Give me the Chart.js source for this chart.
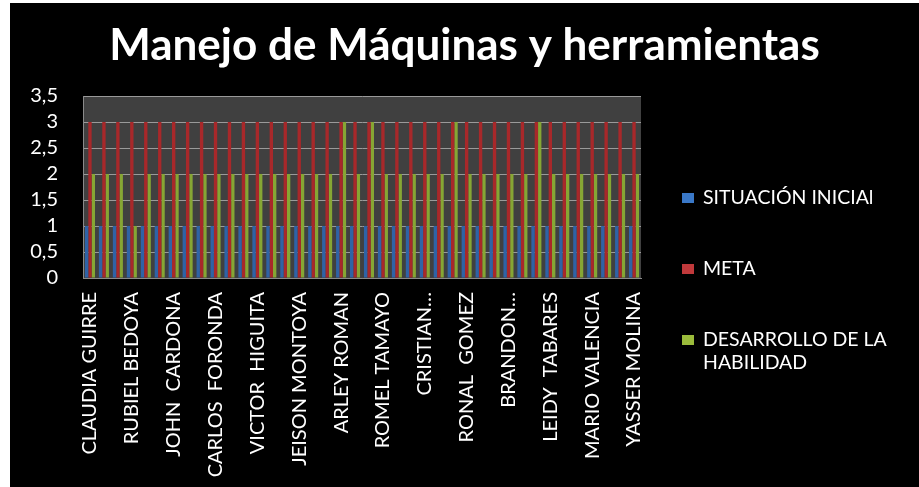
<!DOCTYPE html>
<html>
<head>
<meta charset="utf-8">
<script src="https://cdn.jsdelivr.net/npm/chart.js@4.4.1/dist/chart.umd.min.js"></script>
<style>
  html, body { margin: 0; padding: 0; background: #ffffff; }
  #wrap { position: absolute; left: 10px; top: 3px; width: 909px; height: 484px; background: #000000; }
</style>
</head>
<body>
<div id="wrap"><canvas id="c"></canvas></div>
<script>
// ---- data ----
const categories = [
  "CLAUDIA GUIRRE", "", "",
  "RUBIEL BEDOYA", "", "",
  "JOHN  CARDONA", "", "",
  "CARLOS  FORONDA", "", "",
  "VICTOR  HIGUITA", "", "",
  "JEISON MONTOYA", "", "",
  "ARLEY ROMAN", "", "",
  "ROMEL TAMAYO", "", "",
  "CRISTIAN…", "", "",
  "RONAL  GOMEZ", "", "",
  "BRANDON…", "", "",
  "LEIDY  TABARES", "", "",
  "MARIO VALENCIA", "", "",
  "YASSER MOLINA"
];
const situacionInicial = [1,1,1,1,1,1,1,1,1,1, 1,1,1,1,1,1,1,1,1,1, 1,1,1,1,1,1,1,1,1,1, 1,1,1,1,1,1,1,1,1,1];
const meta            = [3,3,3,3,3,3,3,3,3,3, 3,3,3,3,3,3,3,3,3,3, 3,3,3,3,3,3,3,3,3,3, 3,3,3,3,3,3,3,3,3,3];
const desarrollo      = [2,2,2,1,2,2,2,2,2,2, 2,2,2,2,2,2,2,2,3,2, 3,2,2,2,2,2,3,2,2,2, 2,2,3,2,2,2,2,2,2,2];
const seriesNames = ["SITUACIÓN INICIAl", "META", "DESARROLLO DE LA HABILIDAD"];
const yTicks = [0, 0.5, 1, 1.5, 2, 2.5, 3, 3.5];

const FONT = "Lato, 'Open Sans', sans-serif";

const plotBg = {
  id: 'plotBg',
  beforeDraw(chart) {
    const a = chart.chartArea, ctx = chart.ctx;
    ctx.save();
    ctx.fillStyle = '#404040';
    ctx.fillRect(a.left, a.top, a.right - a.left, a.bottom - a.top);
    ctx.restore();
  }
};

// reserves room on the right of the plot (not under the full-width title)
const rightSpace = {
  id: 'rightSpace',
  beforeInit(chart) {
    const box = {
      position: 'right', weight: 100, fullSize: false,
      options: { stackWeight: 1 },
      width: 0, height: 0, left: 0, top: 0, right: 0, bottom: 0,
      isHorizontal() { return false; },
      update(maxW, maxH) { this.width = 278; this.height = maxH; },
      draw() {}
    };
    Chart.layouts.addBox(chart, box);
  }
};

const sideLegend = {
  id: 'sideLegend',
  afterDraw(chart) {
    const ctx = chart.ctx;
    const x0 = 672, y0 = 195, gap = 71, lineH = 23, maxW = 215;
    ctx.save();
    ctx.font = "19.5px " + FONT;
    ctx.textBaseline = 'middle';
    let y = y0;
    chart.data.datasets.forEach(ds => {
      const words = ds.label.split(' ');
      const lines = [];
      let cur = '';
      words.forEach(w => {
        const t = cur ? cur + ' ' + w : w;
        if (ctx.measureText(t).width > maxW && cur) { lines.push(cur); cur = w; } else { cur = t; }
      });
      if (cur) lines.push(cur);
      ctx.fillStyle = ds.legendColor;
      ctx.fillRect(x0, y - 5, 12, 10);
      ctx.fillStyle = '#ffffff';
      lines.forEach((ln, i) => ctx.fillText(ln, x0 + 21, y + i * lineH));
      y += gap;
    });
    ctx.restore();
  }
};

new Chart(document.getElementById('c'), {
  type: 'bar',
  data: {
    labels: categories,
    datasets: [
      { label: seriesNames[0], data: situacionInicial, backgroundColor: '#2f63a6', legendColor: '#3a78c8' },
      { label: seriesNames[1], data: meta, backgroundColor: '#a8282a', legendColor: '#c0393b' },
      { label: seriesNames[2], data: desarrollo, backgroundColor: '#86a634', legendColor: '#9bbb3b' }
    ]
  },
  options: {
    responsive: true,
    maintainAspectRatio: false,
    animation: false,
    layout: { padding: 0 },
    datasets: { bar: { categoryPercentage: 0.72, barPercentage: 1.0 } },
    plugins: {
      legend: { display: false },
      tooltip: { enabled: false },
      title: {
        display: true,
        text: 'Manejo de Máquinas y herramientas',
        color: '#ffffff',
        font: { family: FONT, size: 44, weight: 'bold', lineHeight: 1.2 },
        padding: { top: 16.6, bottom: 23.6 }
      }
    },
    scales: {
      x: {
        grid: { display: false, drawTicks: false },
        border: { color: '#8a8a8a' },
        ticks: {
          autoSkip: false,
          maxRotation: 90, minRotation: 90,
          color: '#ffffff',
          padding: 14,
          font: { family: FONT, size: 20 }
        },
        afterFit(scale) { scale.height = 209; }
      },
      y: {
        min: 0, max: 3.5,
        afterBuildTicks(scale) { scale.ticks = yTicks.map(v => ({ value: v })); },
        grid: { color: '#9a9a9a', drawTicks: false },
        border: { color: '#8a8a8a' },
        ticks: {
          autoSkip: false,
          color: '#ffffff',
          padding: 25,
          font: { family: FONT, size: 20, lineHeight: 1 },
          callback: v => String(v).replace('.', ',')
        },
        afterFit(scale) { scale.width = 73; }
      }
    }
  },
  plugins: [plotBg, rightSpace, sideLegend]
});
</script>
</body>
</html>
